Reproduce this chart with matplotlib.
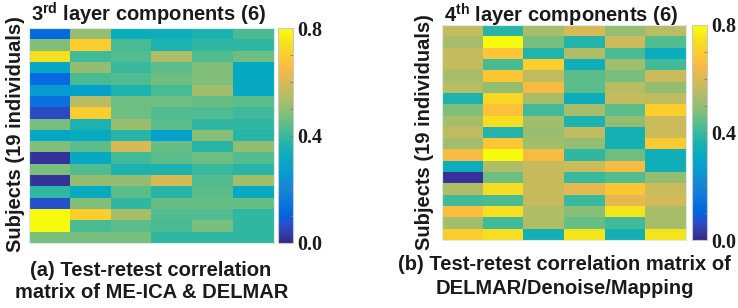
import numpy as np
import matplotlib
matplotlib.use("Agg")
import matplotlib.pyplot as plt
from matplotlib.colors import LinearSegmentedColormap

# ---------------- data ----------------
left_values = [
    [0.12, 0.50, 0.33, 0.34, 0.36, 0.42],
    [0.48, 0.70, 0.42, 0.36, 0.39, 0.39],
    [0.74, 0.41, 0.43, 0.54, 0.43, 0.46],
    [0.30, 0.50, 0.40, 0.44, 0.48, 0.31],
    [0.12, 0.42, 0.43, 0.46, 0.48, 0.31],
    [0.26, 0.28, 0.36, 0.42, 0.52, 0.31],
    [0.14, 0.55, 0.46, 0.46, 0.45, 0.44],
    [0.06, 0.70, 0.46, 0.43, 0.43, 0.41],
    [0.47, 0.36, 0.51, 0.44, 0.39, 0.39],
    [0.30, 0.32, 0.38, 0.28, 0.49, 0.38],
    [0.48, 0.44, 0.60, 0.45, 0.38, 0.50],
    [0.02, 0.31, 0.41, 0.44, 0.46, 0.43],
    [0.47, 0.43, 0.36, 0.36, 0.40, 0.38],
    [0.02, 0.50, 0.50, 0.60, 0.43, 0.52],
    [0.39, 0.32, 0.44, 0.38, 0.44, 0.31],
    [0.07, 0.48, 0.39, 0.45, 0.45, 0.45],
    [0.80, 0.70, 0.53, 0.43, 0.43, 0.39],
    [0.80, 0.42, 0.44, 0.42, 0.47, 0.39],
    [0.47, 0.47, 0.47, 0.39, 0.39, 0.39],
]
right_values = [
    [0.57, 0.38, 0.53, 0.60, 0.50, 0.55],
    [0.53, 0.80, 0.47, 0.37, 0.58, 0.43],
    [0.57, 0.68, 0.37, 0.54, 0.42, 0.33],
    [0.57, 0.42, 0.70, 0.34, 0.52, 0.41],
    [0.53, 0.68, 0.56, 0.44, 0.47, 0.58],
    [0.55, 0.50, 0.65, 0.44, 0.55, 0.50],
    [0.36, 0.72, 0.53, 0.33, 0.57, 0.56],
    [0.48, 0.67, 0.41, 0.53, 0.44, 0.70],
    [0.53, 0.74, 0.52, 0.36, 0.50, 0.58],
    [0.56, 0.37, 0.51, 0.56, 0.35, 0.58],
    [0.52, 0.68, 0.52, 0.50, 0.35, 0.69],
    [0.65, 0.80, 0.65, 0.39, 0.46, 0.34],
    [0.33, 0.54, 0.57, 0.58, 0.65, 0.34],
    [0.02, 0.46, 0.57, 0.40, 0.43, 0.50],
    [0.54, 0.73, 0.57, 0.62, 0.68, 0.58],
    [0.41, 0.42, 0.57, 0.40, 0.62, 0.59],
    [0.66, 0.74, 0.54, 0.49, 0.75, 0.53],
    [0.52, 0.41, 0.54, 0.45, 0.41, 0.53],
    [0.70, 0.74, 0.35, 0.75, 0.35, 0.75],
]
titles = [r"3$^{\mathbf{rd}}$ layer components (6)", r"4$^{\mathbf{th}}$ layer components (6)"]
ylabel = "Subjects (19 individuals)"
captions = [["(a) Test-retest correlation", "matrix of ME-ICA & DELMAR"],
            ["(b) Test-retest correlation matrix of", "DELMAR/Denoise/Mapping"]]
cbar_ticks = [0.0, 0.4, 0.8]
cbar_ticklabels = ["0.0", "0.4", "0.8"]
vmin, vmax = 0.0, 0.8

# parula colormap anchors
parula_anchor = [
    [0.2081, 0.1663, 0.5292], [0.2123, 0.2138, 0.6270], [0.1959, 0.2645, 0.7279],
    [0.1253, 0.3242, 0.8303], [0.0117, 0.3875, 0.8820], [0.0165, 0.4266, 0.8786],
    [0.0498, 0.4586, 0.8641], [0.0723, 0.4887, 0.8467], [0.0793, 0.5200, 0.8312],
    [0.0641, 0.5570, 0.8240], [0.0343, 0.5966, 0.8199], [0.0239, 0.6287, 0.8038],
    [0.0228, 0.6535, 0.7768], [0.0384, 0.6743, 0.7436], [0.0843, 0.6928, 0.7062],
    [0.1453, 0.7098, 0.6646], [0.2178, 0.7250, 0.6193], [0.3022, 0.7376, 0.5712],
    [0.3953, 0.7459, 0.5244], [0.4871, 0.7491, 0.4840], [0.5709, 0.7485, 0.4494],
    [0.6473, 0.7456, 0.4188], [0.7184, 0.7411, 0.3905], [0.7858, 0.7356, 0.3633],
    [0.8507, 0.7299, 0.3360], [0.9139, 0.7258, 0.3063], [0.9739, 0.7314, 0.2666],
    [0.9990, 0.7653, 0.2164], [0.9880, 0.8066, 0.1794], [0.9697, 0.8481, 0.1475],
    [0.9589, 0.8949, 0.1132], [0.9661, 0.9514, 0.0755], [0.9763, 0.9831, 0.0538],
]
parula = LinearSegmentedColormap.from_list("parula", parula_anchor, N=256)

plt.rcParams['font.family'] = ['Liberation Sans', 'DejaVu Sans']
plt.rcParams['mathtext.fontset'] = 'custom'
plt.rcParams['mathtext.rm'] = 'Liberation Sans:bold'
plt.rcParams['mathtext.bf'] = 'Liberation Sans:bold'

W, H = 738, 308
fig = plt.figure(figsize=(W / 100, H / 100), dpi=100)
fig.patch.set_facecolor('white')

def fx(px):
    return px / W

def fy(py):
    return 1 - py / H

# pixel boxes: (left, top, right, bottom)
hm_boxes = [(29, 28, 274, 243), (442, 25, 686, 240)]
cb_boxes = [(278, 28, 293, 243), (692, 25, 707, 240)]
title_pos = [(149, 14), (561, 15)]
ylabel_x = [16, 425]
ylabel_y = [134, 132]
caption_pos = [[(151, 270), (152, 293)], [(564, 265), (565, 289)]]

txtcol = '#1a1a1a'
fs = 14.5
datasets = [left_values, right_values]
for i in range(2):
    l, t, r, b = hm_boxes[i]
    ax = fig.add_axes([fx(l), fy(b), fx(r - l), (b - t) / H])
    im = ax.imshow(np.array(datasets[i]), cmap=parula, vmin=vmin, vmax=vmax,
                   aspect='auto', interpolation='nearest')
    ax.set_xticks([])
    ax.set_yticks([])
    for s in ax.spines.values():
        s.set_color('#d8ecec')
        s.set_linewidth(0.8)

    l, t, r, b = cb_boxes[i]
    cax = fig.add_axes([fx(l), fy(b), fx(r - l), (b - t) / H])
    cb = fig.colorbar(im, cax=cax)
    cb.outline.set_edgecolor('#c8c8c8')
    cb.outline.set_linewidth(0.8)
    cb.set_ticks(cbar_ticks)
    cb.set_ticklabels(cbar_ticklabels)
    cax.yaxis.set_minor_locator(matplotlib.ticker.MultipleLocator(0.1))
    cax.tick_params(which='both', direction='in', length=2, width=0.6,
                    color='#777777', pad=3)
    cax.tick_params(which='major', labelsize=14.5)
    for lab in cax.get_yticklabels():
        lab.set_fontfamily('Liberation Serif')
        lab.set_fontweight('bold')
        lab.set_color(txtcol)

    tx, ty = title_pos[i]
    fig.text(fx(tx), fy(ty), titles[i], ha='center', va='center',
             fontsize=fs, fontweight='bold', color=txtcol)
    fig.text(fx(ylabel_x[i]), fy(ylabel_y[i]), ylabel, rotation=90,
             ha='center', va='center', fontsize=fs, fontweight='bold', color=txtcol)
    for (cx, cy), line in zip(caption_pos[i], captions[i]):
        fig.text(fx(cx), fy(cy), line, ha='center', va='center',
                 fontsize=fs, fontweight='bold', color=txtcol)

fig.savefig('out.png', dpi=100, facecolor='white')
